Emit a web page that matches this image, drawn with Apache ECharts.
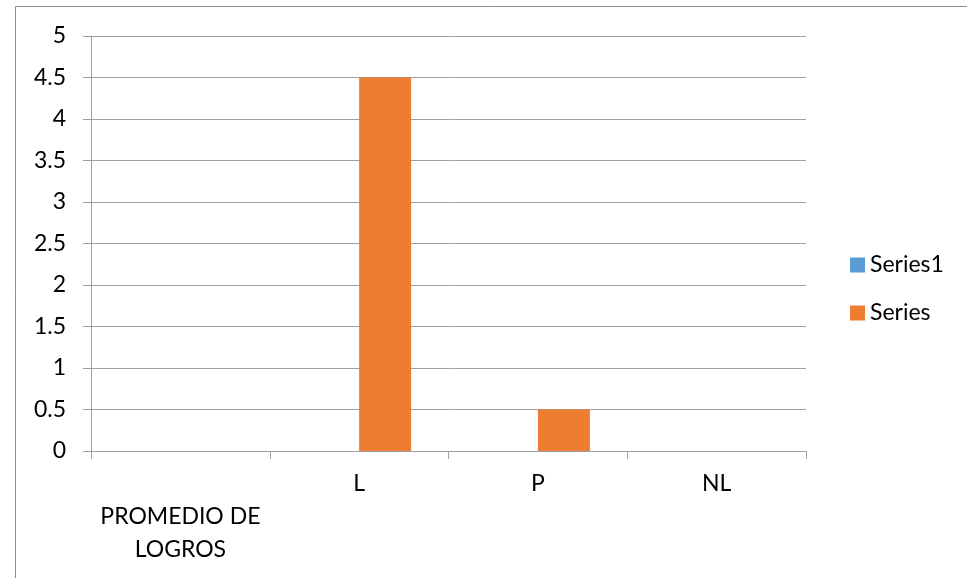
<!DOCTYPE html>
<html><head><meta charset="utf-8">
<script src="https://cdn.jsdelivr.net/npm/echarts@6/dist/echarts.min.js"></script>
<style>html,body{margin:0;padding:0;background:#fff}#c{width:967px;height:578px}</style>
</head><body><div id="c"></div>
<script>
const categories = ['PROMEDIO DE\nLOGROS', 'L', 'P', 'NL'];
const series1Values = [0, 0, 0, 0];
const seriesValues = [0, 4.5, 0.5, 0];
const seriesNames = ['Series1', 'Series'];

const FONT = 'Lato';
const FS = 23;
const chart = echarts.init(document.getElementById('c'));
const axisData = categories.map((c, i) => i === 0
  ? { value: c, textStyle: { padding: [28, 0, 0, 0], lineHeight: 33 } }
  : { value: c });

chart.setOption({
  animation: false,
  textStyle: { fontFamily: FONT },
  graphic: [{
    type: 'rect', shape: { x: 15.5, y: 6.5, width: 1000, height: 1000 },
    style: { fill: 'none', stroke: '#8c8c8c', lineWidth: 1 }
  }],
  grid: { left: 91, right: 161, top: 36, bottom: 127, containLabel: false },
  legend: {
    orient: 'vertical', left: 845, top: 248, itemWidth: 15, itemHeight: 15, itemGap: 24,
    icon: 'rect', data: seriesNames,
    textStyle: { fontSize: FS, color: '#000', fontFamily: FONT, lineHeight: 24 }
  },
  xAxis: {
    type: 'category', data: axisData,
    axisLine: { lineStyle: { color: '#a0a0a0', width: 1 } },
    axisTick: { show: true, length: 8, alignWithLabel: false, lineStyle: { color: '#a0a0a0' } },
    axisLabel: { fontSize: FS, color: '#000', margin: 21, interval: 0, lineHeight: 24 }
  },
  yAxis: {
    type: 'value', min: 0, max: 5, interval: 0.5,
    axisLine: { show: true, lineStyle: { color: '#a0a0a0' } },
    axisTick: { show: true, length: 8, lineStyle: { color: '#a0a0a0' } },
    splitLine: { lineStyle: { color: '#a0a0a0', width: 1 } },
    axisLabel: { fontSize: FS, color: '#000', margin: 25 }
  },
  series: [
    { name: seriesNames[0], type: 'bar', data: series1Values, barWidth: 52, barGap: '0%',
      itemStyle: { color: '#5B9BD5' } },
    { name: seriesNames[1], type: 'bar', data: seriesValues, barWidth: 52, barGap: '0%',
      itemStyle: { color: '#ED7D31' } }
  ]
});
</script></body></html>
